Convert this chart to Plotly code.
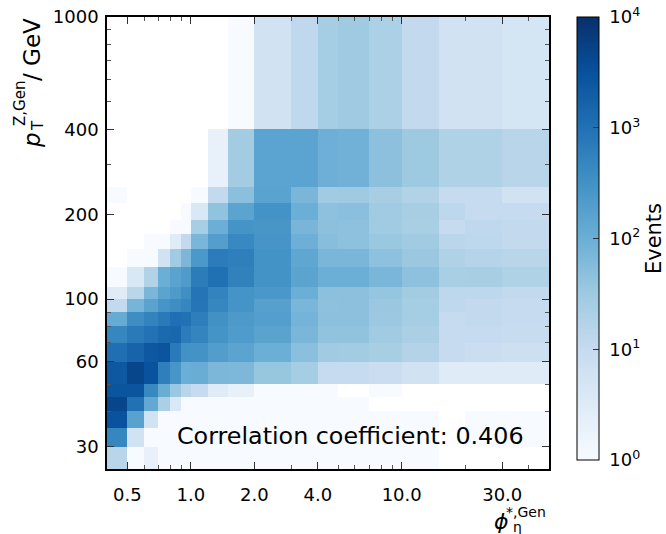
import numpy as np
import plotly.graph_objects as go

# ---- data ----
# bin edges of phi*_eta (x) and pT^Z (y), GeV
x_edges = [0.4, 0.5, 0.6, 0.7, 0.8, 0.9, 1.0, 1.2, 1.5, 2.0, 3.0, 4.0, 5.0, 7.0, 10.0, 15.0, 20.0, 30.0, 50.0]
y_edges = [25, 30, 35, 40, 45, 50, 60, 70, 80, 90, 100, 110, 130, 150, 170, 190, 220, 250, 400, 1000]

# events per bin, one list per pT bin (bottom to top), one value per phi* bin (left to right)
row_25_30 = [15, 1, 2, 1, 1, 1, 1, 1, 1, 1, 1, 1, 1, 1, 1, 0, 0, 0]
row_30_35 = [475, 6, 1, 1, 1, 1, 1, 1, 1, 1, 1, 1, 1, 1, 1, 0, 1, 1]
row_35_40 = [3000, 165, 6, 1, 1, 1, 1, 1, 1, 1, 1, 1, 1, 1, 1, 0, 1, 1]
row_40_45 = [4600, 1000, 126, 22, 4, 1, 1, 1, 1, 1, 1, 1, 1, 0, 0, 0, 0, 0]
row_45_50 = [2700, 2700, 440, 105, 35, 15, 10, 3, 2, 1, 1, 1, 0, 1, 0, 0, 0, 0]
row_50_60 = [2500, 4600, 3000, 620, 270, 101, 105, 68, 66, 37, 26, 10, 10, 8, 6, 3, 3, 3]
row_60_70 = [1070, 1580, 2500, 2700, 730, 316, 300, 200, 156, 100, 50, 30, 28, 24, 17, 10, 8, 7]
row_70_80 = [475, 730, 970, 1320, 1450, 680, 520, 290, 220, 160, 71, 42, 42, 30, 22, 10, 10, 9]
row_80_90 = [115, 365, 535, 730, 1070, 1000, 630, 330, 237, 195, 80, 47, 47, 33, 26, 10, 11, 10]
row_90_100 = [11, 78, 160, 275, 365, 475, 870, 475, 290, 180, 71, 46, 48, 34, 26, 12, 11, 10]
row_100_110 = [3, 14, 71, 152, 225, 350, 910, 535, 290, 250, 97, 48, 48, 38, 27, 13, 13, 11]
row_110_130 = [1, 4, 18, 100, 160, 220, 690, 1050, 580, 300, 152, 100, 100, 71, 46, 23, 24, 19]
row_130_150 = [0, 1, 1, 6, 30, 68, 245, 670, 620, 300, 140, 71, 71, 46, 34, 19, 16, 15]
row_150_170 = [0, 0, 1, 1, 3, 11, 71, 190, 450, 275, 95, 52, 46, 35, 30, 14, 13, 11]
row_170_190 = [0, 0, 0, 0, 1, 1, 24, 98, 290, 267, 74, 47, 46, 30, 23, 10, 12, 11]
row_190_220 = [0, 0, 0, 0, 0, 1, 4, 43, 152, 307, 100, 46, 50, 30, 24, 13, 10, 10]
row_220_250 = [1, 0, 0, 0, 0, 0, 1, 11, 50, 162, 71, 30, 31, 24, 18, 10, 10, 6]
row_250_400 = [0, 0, 0, 0, 0, 0, 0, 2, 27, 156, 156, 95, 88, 48, 32, 19, 19, 15]
row_400_1000 = [0, 0, 0, 0, 0, 0, 0, 0, 1, 6, 12, 26, 31, 21, 11, 6, 6, 5]

counts = [row_25_30, row_30_35, row_35_40, row_40_45, row_45_50, row_50_60,
          row_60_70, row_70_80, row_80_90, row_90_100, row_100_110, row_110_130,
          row_130_150, row_150_170, row_170_190, row_190_220, row_220_250,
          row_250_400, row_400_1000]

x_tick_vals = [0.5, 1.0, 2.0, 4.0, 10.0, 30.0]
x_tick_text = ["0.5", "1.0", "2.0", "4.0", "10.0", "30.0"]
x_minor_vals = [0.6, 0.7, 0.8, 0.9, 3, 5, 6, 7, 8, 9, 20, 40]
y_tick_vals = [30, 60, 100, 200, 400, 1000]
y_tick_text = ["30", "60", "100", "200", "400", "1000"]
y_minor_vals = [40, 50, 70, 80, 90, 300, 500, 600, 700, 800, 900]
cbar_tick_vals = [0, 1, 2, 3, 4]
cbar_tick_text = ["\u00a010<sup>0</sup>", "\u00a010<sup>1</sup>", "\u00a010<sup>2</sup>",
                  "\u00a010<sup>3</sup>", "\u00a010<sup>4</sup>"]
correlation = 0.406

# ---- figure ----
FONT = "DejaVu Sans"
blues = [[0.0, "rgb(247,251,255)"], [0.125, "rgb(222,235,247)"], [0.25, "rgb(198,219,239)"],
         [0.375, "rgb(158,202,225)"], [0.5, "rgb(107,174,214)"], [0.625, "rgb(66,146,198)"],
         [0.75, "rgb(33,113,181)"], [0.875, "rgb(8,81,156)"], [1.0, "rgb(8,48,107)"]]

c = np.array(counts, dtype=float)
z = np.where(c > 0, np.log10(np.where(c > 0, c, 1)), np.nan)

W, H = 666, 534
L, R, T, B = 107, 117, 17, 65
pw, ph = W - L - R, H - T - B


def px_x(px):
    return (px - L) / pw


def px_y(py):
    return (H - B - py) / ph


def label(text, cx, cy, size, angle=0, italic=False):
    if italic:
        text = f"<i>{text}</i>"
    fig.add_annotation(
        text=text, xref="paper", yref="paper", x=px_x(cx), y=px_y(cy),
        xanchor="center", yanchor="middle", textangle=angle, showarrow=False,
        font=dict(family=FONT, size=size, color="black"),
    )


fig = go.Figure()
fig.add_trace(go.Heatmap(
    x=x_edges, y=y_edges, z=z, zmin=0, zmax=4, colorscale=blues,
    hoverongaps=False, zsmooth=False,
    colorbar=dict(
        x=px_x(577), xanchor="left", y=1, yanchor="top",
        len=443 / ph, lenmode="fraction", thickness=22, thicknessmode="pixels",
        xpad=0, ypad=0, outlinewidth=1, outlinecolor="black",
        tickvals=cbar_tick_vals, ticktext=cbar_tick_text,
        ticks="inside", ticklen=6, tickcolor="#333", tickwidth=1,
        tickfont=dict(family=FONT, size=18, color="black"),
        title=dict(text="Events", side="right", font=dict(family=FONT, size=21, color="black")),
    ),
))

axis_common = dict(
    type="log", showgrid=False, zeroline=False, showline=True, linecolor="black",
    linewidth=1.5, mirror="allticks", ticks="inside", ticklen=7, tickwidth=1,
    tickcolor="#333", tickfont=dict(family=FONT, size=18, color="black"),
)
fig.update_xaxes(
    **axis_common, range=[np.log10(x_edges[0]), np.log10(x_edges[-1])],
    tickmode="array", tickvals=x_tick_vals, ticktext=x_tick_text, ticklabelstandoff=9,
    minor=dict(tickmode="array", tickvals=x_minor_vals, ticks="inside", ticklen=4,
               tickcolor="#555", tickwidth=1, showgrid=False),
)
fig.update_yaxes(
    **axis_common, range=[np.log10(y_edges[0]), np.log10(y_edges[-1])],
    tickmode="array", tickvals=y_tick_vals, ticktext=y_tick_text, ticklabelstandoff=3,
    minor=dict(tickmode="array", tickvals=y_minor_vals, ticks="inside", ticklen=4,
               tickcolor="#555", tickwidth=1, showgrid=False),
)

fig.add_annotation(
    text=f"Correlation coefficient: {correlation:.3f}", xref="paper", yref="paper",
    x=px_x(175), y=px_y(436), xanchor="left", yanchor="middle",
    showarrow=False, font=dict(family=FONT, size=23.8, color="black"),
)
# y-axis title: p_T^{Z,Gen} / GeV (sub/superscript stacked, rotated)
label("p", 32, 140, 23, angle=-90, italic=True)
label("Z,Gen", 20, 104, 15, angle=-90)
label("T", 38, 126, 15, angle=-90)
label("/ GeV", 32, 50, 23, angle=-90)
# x-axis title: phi*_eta^{*,Gen} (sub/superscript stacked)
label("ϕ", 501, 521, 22, italic=True)
label("*,Gen", 526, 512, 14)
label("η", 517, 527, 14)

fig.update_layout(
    width=W, height=H, margin=dict(l=L, r=R, t=T, b=B, pad=0, autoexpand=False),
    paper_bgcolor="white", plot_bgcolor="white", showlegend=False,
)
fig.write_html("out.html", config={"displayModeBar": False},
               post_script="document.body.style.margin='0px';")
